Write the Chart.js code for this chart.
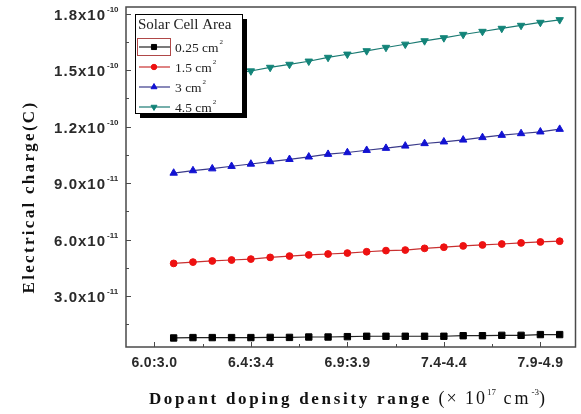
<!DOCTYPE html>
<html>
<head>
<meta charset="utf-8">
<script src="https://cdn.jsdelivr.net/npm/chart.js@4.4.1/dist/chart.umd.min.js"></script>
<style>
  html, body { margin: 0; padding: 0; background: #fff; }
  #wrap { width: 581px; height: 414px; position: relative; }
</style>
</head>
<body>
<div id="wrap"><canvas id="chart" width="581" height="414"></canvas></div>
<script>
// charge values are in units of 1e-11 C
const xPoints = [0, 1, 2, 3, 4, 5, 6, 7, 8, 9, 10, 11, 12, 13, 14, 15, 16, 17, 18, 19, 20];
const areaLabels = ['0.25 cm', '1.5 cm', '3 cm', '4.5 cm'];
const charge025 = [0.78, 0.80, 0.80, 0.80, 0.80, 0.81, 0.81, 0.83, 0.83, 0.85, 0.87, 0.87, 0.87, 0.87, 0.87, 0.90, 0.90, 0.92, 0.92, 0.96, 0.96];
const charge15 = [4.74, 4.81, 4.87, 4.92, 4.97, 5.06, 5.13, 5.19, 5.24, 5.29, 5.36, 5.42, 5.45, 5.54, 5.60, 5.67, 5.72, 5.77, 5.83, 5.88, 5.92];
const charge3 = [9.54, 9.67, 9.77, 9.90, 10.02, 10.15, 10.27, 10.40, 10.54, 10.63, 10.75, 10.86, 10.98, 11.11, 11.20, 11.30, 11.43, 11.55, 11.64, 11.73, 11.87];
const charge45 = [14.28, 14.45, 14.62, 14.79, 14.96, 15.15, 15.31, 15.48, 15.68, 15.85, 16.03, 16.21, 16.38, 16.56, 16.72, 16.90, 17.06, 17.22, 17.38, 17.54, 17.68];

const xTickPos = [-1, 4, 9, 14, 19];
const xTickLabels = ['6.0:3.0', '6.4:3.4', '6.9:3.9', '7.4-4.4', '7.9-4.9'];
const xMinorPos = [1.5, 6.5, 11.5, 16.5];
const yTickVals = [3, 6, 9, 12, 15, 18];
const yTickMant = ['3.0x10', '6.0x10', '9.0x10', '1.2x10', '1.5x10', '1.8x10'];
const yTickExp = ['-11', '-11', '-11', '-10', '-10', '-10'];
const yMinorVals = [1.5, 4.5, 7.5, 10.5, 13.5, 16.5];

function series(label, values, line, fill, style, radius, rotation) {
    return {
        label: label,
        data: xPoints.map((x, i) => ({ x: x, y: values[i] })),
        borderColor: line,
        backgroundColor: fill,
        pointBackgroundColor: fill,
        pointBorderColor: fill,
        pointStyle: style,
        pointRadius: radius,
        pointRotation: rotation,
        borderWidth: 1.2,
        pointBorderWidth: 1
    };
}

const datasets = [
    series(areaLabels[0], charge025, '#222', '#000', 'rect', 4.5, 0),
    series(areaLabels[1], charge15, '#c83030', '#ee1111', 'circle', 3.4, 0),
    series(areaLabels[2], charge3, '#3a3a8a', '#1212d2', 'triangle', 4.3, 0),
    series(areaLabels[3], charge45, '#1a7a72', '#138479', 'triangle', 4.3, 180)
];

// draw text with optional letter spacing, returns width
function txt(ctx, s, x, y, font, spacing) {
    ctx.font = font;
    ctx.letterSpacing = (spacing || 0) + 'px';
    ctx.fillText(s, x, y);
    const w = ctx.measureText(s).width;
    ctx.letterSpacing = '0px';
    return w;
}

const decor = {
    id: 'decor',
    afterDatasetsDraw(chart) {
        const { ctx, chartArea: a, scales: { x, y } } = chart;
        ctx.save();

        // frame
        ctx.strokeStyle = '#4a4a4a';
        ctx.lineWidth = 1.5;
        ctx.strokeRect(a.left, a.top, a.right - a.left, a.bottom - a.top);

        // inward ticks
        ctx.lineWidth = 1;
        ctx.beginPath();
        xTickPos.forEach(v => { const px = Math.round(x.getPixelForValue(v)) + 0.5; ctx.moveTo(px, a.bottom); ctx.lineTo(px, a.bottom - 5); });
        xMinorPos.forEach(v => { const px = Math.round(x.getPixelForValue(v)) + 0.5; ctx.moveTo(px, a.bottom); ctx.lineTo(px, a.bottom - 3); });
        yTickVals.forEach(v => { const py = Math.round(y.getPixelForValue(v)) + 0.5; ctx.moveTo(a.left, py); ctx.lineTo(a.left + 5, py); });
        yMinorVals.forEach(v => { const py = Math.round(y.getPixelForValue(v)) + 0.5; ctx.moveTo(a.left, py); ctx.lineTo(a.left + 3, py); });
        ctx.stroke();

        // tick labels
        ctx.fillStyle = '#2a2a2a';
        ctx.textBaseline = 'middle';
        ctx.textAlign = 'center';
        xTickPos.forEach((v, i) => txt(ctx, xTickLabels[i], x.getPixelForValue(v), a.bottom + 16, 'bold 14px "Liberation Sans", Arial, sans-serif', 0.3));
        yTickVals.forEach((v, i) => {
            const py = y.getPixelForValue(v) + 2;
            ctx.textAlign = 'right';
            ctx.textBaseline = 'middle';
            txt(ctx, yTickMant[i], 106, py, 'bold 15px "Liberation Sans", Arial, sans-serif', 1);
            ctx.textAlign = 'left';
            ctx.textBaseline = 'alphabetic';
            txt(ctx, yTickExp[i], 107, py - 4, 'bold 8px "Liberation Sans", Arial, sans-serif', 0);
        });

        // axis titles
        ctx.fillStyle = '#111';
        const serif = '"Liberation Serif", "Times New Roman", serif';
        const parts = [
            { t: 'Dopant doping density range', f: 'bold 17px ' + serif, ls: 2.7, dy: 0 },
            { t: ' (\u00d7 10', f: '18px ' + serif, ls: 2, dy: 0 },
            { t: '17', f: '9px ' + serif, ls: 0, dy: -9 },
            { t: ' cm', f: '18px ' + serif, ls: 3, dy: 0 },
            { t: '-3', f: '9px ' + serif, ls: 0, dy: -9 },
            { t: ')', f: '18px ' + serif, ls: 0, dy: 0 }
        ];
        let total = 0;
        parts.forEach(p => { ctx.font = p.f; ctx.letterSpacing = p.ls + 'px'; p.w = ctx.measureText(p.t).width; total += p.w; });
        ctx.letterSpacing = '0px';
        let cx = 347 - total / 2;
        ctx.textAlign = 'left';
        ctx.textBaseline = 'alphabetic';
        parts.forEach(p => { txt(ctx, p.t, cx, 404 + p.dy, p.f, p.ls); cx += p.w; });

        ctx.save();
        ctx.translate(34, 197);
        ctx.rotate(-Math.PI / 2);
        ctx.textAlign = 'center';
        ctx.textBaseline = 'alphabetic';
        txt(ctx, 'Electrical charge(C)', 0, 0, 'bold 17px ' + serif, 2.3);
        ctx.restore();

        // legend box with shadow
        const lx = 135, ly = 14, lw = 107, lh = 99;
        ctx.fillStyle = '#000';
        ctx.fillRect(lx + 5, ly + 5, lw, lh);
        ctx.fillStyle = '#fff';
        ctx.fillRect(lx, ly, lw, lh);
        ctx.strokeStyle = '#000';
        ctx.lineWidth = 1;
        ctx.strokeRect(lx + 0.5, ly + 0.5, lw, lh);

        ctx.fillStyle = '#222';
        ctx.textAlign = 'left';
        ctx.textBaseline = 'middle';
        txt(ctx, 'Solar Cell Area', 138, 25, '15px ' + serif, 0);

        chart.data.datasets.forEach((ds, i) => {
            const iy = 47 + i * 20;
            ctx.strokeStyle = ds.borderColor;
            ctx.lineWidth = 1.2;
            ctx.beginPath();
            ctx.moveTo(139, iy);
            ctx.lineTo(170, iy);
            ctx.stroke();
            ctx.fillStyle = ds.pointBackgroundColor;
            ctx.strokeStyle = ds.pointBorderColor;
            ctx.lineWidth = 1;
            Chart.helpers.drawPoint(ctx, { pointStyle: ds.pointStyle, rotation: ds.pointRotation, radius: ds.pointRadius * 0.8, borderWidth: 1 }, 154, iy);
            ctx.fillStyle = '#222';
            ctx.textBaseline = 'middle';
            const w = txt(ctx, ds.label, 175, iy + 1, '13.5px ' + serif, 0);
            ctx.textBaseline = 'alphabetic';
            txt(ctx, '2', 175 + w + 1, iy - 3, '7px ' + serif, 0);
        });
        // selection box around the first entry
        ctx.strokeStyle = '#b04848';
        ctx.lineWidth = 1;
        ctx.strokeRect(137.5, 38.5, 33, 17);

        ctx.restore();
    }
};

new Chart(document.getElementById('chart'), {
    type: 'line',
    data: { datasets: datasets },
    options: {
        responsive: false,
        animation: false,
        devicePixelRatio: 1,
        layout: { padding: { left: 126, right: 3, top: 7, bottom: 67 } },
        plugins: { legend: { display: false }, tooltip: { enabled: false } },
        scales: {
            x: { type: 'linear', min: -2.47, max: 20.82, display: false },
            y: { type: 'linear', min: 0.3, max: 18.36, display: false }
        }
    },
    plugins: [decor]
});
</script>
</body>
</html>
